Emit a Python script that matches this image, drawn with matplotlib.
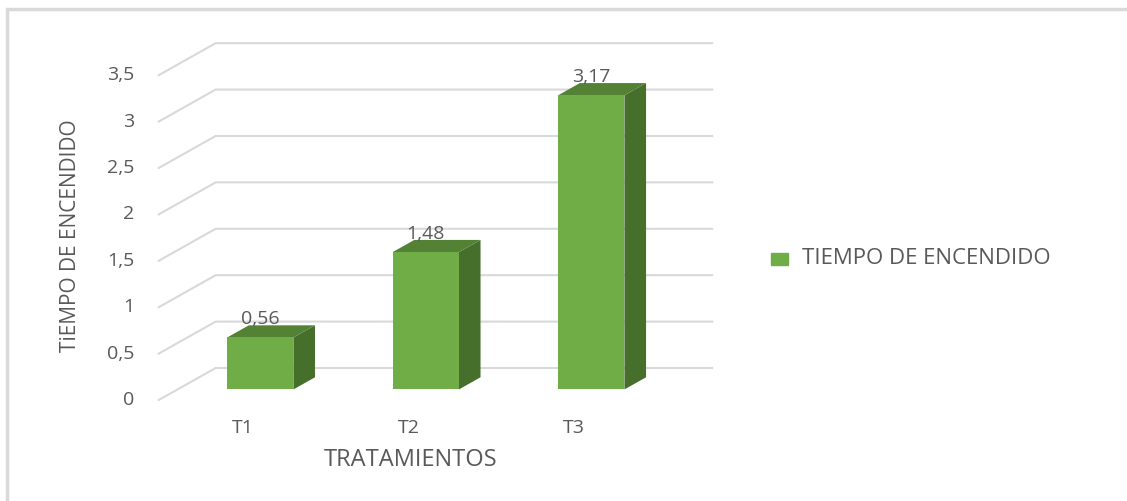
import numpy as np
import matplotlib
matplotlib.use("Agg")
import matplotlib.pyplot as plt
from matplotlib.patches import Rectangle

plt.rcParams['font.family'] = ['Open Sans', 'DejaVu Sans']

categories = ['T1', 'T2', 'T3']
values = [0.56, 1.48, 3.17]
value_labels = ['0,56', '1,48', '3,17']
y_ticks = [0, 0.5, 1, 1.5, 2, 2.5, 3, 3.5]
y_tick_labels = ['0', '0,5', '1', '1,5', '2', '2,5', '3', '3,5']
series_name = 'TIEMPO DE ENCENDIDO'
x_title = 'TRATAMIENTOS'
y_title = 'TiEMPO DE ENCENDIDO'

# colours (excel green)
front_col = '#70AD47'
top_col = '#548235'
side_col = '#476F2C'
grid_col = '#D9D9D9'
text_col = '#595959'

# fake 3d: depth offset of the floor in data units
DX = 0.344
DY = 0.345
d0, d1 = 0.33, 0.71     # bar front / back depth
bar_w = 0.4

fig = plt.figure(figsize=(11.27, 5.01), dpi=100)
ax = fig.add_axes([0, 0, 1, 1])
ax.set_xlim(-1.459, 5.350)
ax.set_ylim(-1.088, 4.310)
ax.axis('off')

# outer chart border
fig.patches.append(Rectangle((7 / 1127, -0.1), 1.2, 1 - 9 / 501 + 0.1,
                             transform=fig.transFigure, fill=False,
                             edgecolor='#D9D9D9', linewidth=2.5))

x_left, x_right = -0.5, 2.5
for v, lab in zip(y_ticks, y_tick_labels):
    ax.plot([x_left, x_left + DX, x_right + DX], [v, v + DY, v + DY],
            color=grid_col, linewidth=1.5, zorder=1)
    ax.text(x_left - 0.148, v, lab, ha='right', va='center',
            fontsize=14, color=text_col)

x = np.arange(len(categories))
for xi, v, vl, cat in zip(x, values, value_labels, categories):
    l = xi - bar_w / 2 + d0 * DX
    r = xi + bar_w / 2 + d0 * DX
    b = d0 * DY
    t = v + d0 * DY
    ox = (d1 - d0) * DX
    oy = (d1 - d0) * DY
    ax.fill([r, r + ox, r + ox, r], [b, b + oy, t + oy, t],
            color=side_col, zorder=2, linewidth=0)
    ax.fill([l, l + ox, r + ox, r], [t, t + oy, t + oy, t],
            color=top_col, zorder=2, linewidth=0)
    ax.fill([l, r, r, l], [b, b, t, t], color=front_col, zorder=3,
            linewidth=0)
    ax.text(xi + d0 * DX, t + 0.2, vl, ha='center', va='center',
            fontsize=14, color=text_col, zorder=4)
    ax.text(xi + 0.01, -0.3, cat, ha='center', va='center', fontsize=14,
            color=text_col)

ax.text(1.02, -0.65, x_title, ha='center', va='center', fontsize=17,
        color=text_col)
ax.text(-1.036, 1.767, y_title, ha='center', va='center', rotation=90,
        fontsize=15, color=text_col)

# legend
ax.add_patch(Rectangle((3.2, 1.455), 0.103, 0.13, color=front_col))
ax.text(3.387, 1.52, series_name, ha='left', va='center', fontsize=16,
        color=text_col)

fig.savefig('out.png', dpi=100)
